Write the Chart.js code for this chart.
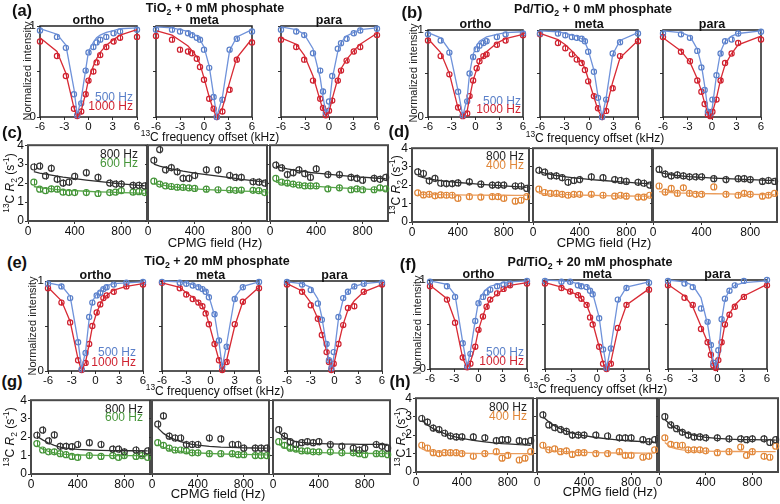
<!DOCTYPE html>
<html><head><meta charset="utf-8">
<script src="https://cdn.jsdelivr.net/npm/chart.js@4.4.1/dist/chart.umd.min.js"></script>
<style>
html,body{margin:0;padding:0;background:#fff}
#wrap{position:relative;width:780px;height:504px;overflow:hidden;font-family:"Liberation Sans",Arial,Helvetica,sans-serif;color:#111}
#wrap canvas{position:absolute}
.t{position:absolute;white-space:nowrap;line-height:1}
.t sup,.t sub{font-size:70%;line-height:0}
</style></head><body><div id="wrap"></div>
<script>
// ---------- tick labels ----------
const CEST_X_TICKS = [-6, -3, 0, 3, 6];
const CEST_Y_TICKS = [0, 0.5, 1];
const CPMG_X_TICKS = [0, 400, 800];
const CPMG_Y_TICKS = [0, 1, 2, 3, 4];
const CEST_ERR = 0.03;
const CPMG_ERR = 0.2;

// ---------- (a) TiO2 + 0 mM phosphate : CEST (kHz offset, normalized intensity) ----------
const A_ORTHO_X = [-6, -3.9, -2.8, -1.8, -1.4, -0.9, -0.35, 0, 0.6, 1, 1.45, 2.2, 3.1, 3.9, 6];
const A_ORTHO_500 = [0.95, 0.88, 0.76, 0.25, 0.02, 0.15, 0.51, 0.71, 0.77, 0.82, 0.85, 0.88, 0.92, 0.94, 0.96];
const A_ORTHO_500_FIT = [0.97, 0.91, 0.79, 0.31, 0.02, 0.2, 0.52, 0.72, 0.82, 0.87, 0.9, 0.93, 0.95, 0.97, 0.98];
const A_ORTHO_1000 = [0.83, 0.67, 0.45, 0.09, 0.01, 0.06, 0.25, 0.4, 0.5, 0.6, 0.68, 0.77, 0.83, 0.87, 0.88];
const A_ORTHO_1000_FIT = [0.87, 0.72, 0.48, 0.1, 0.0, 0.07, 0.26, 0.41, 0.56, 0.64, 0.71, 0.79, 0.85, 0.9, 0.96];
const A_META_X = [-6, -4, -3, -2, -1.5, -0.9, -0.5, 0, 0.65, 1.2, 1.6, 2.3, 3.2, 4.1, 6];
const A_META_500 = [0.96, 0.96, 0.94, 0.92, 0.9, 0.87, 0.85, 0.74, 0.54, 0.22, 0.0, 0.19, 0.74, 0.86, 0.94];
const A_META_500_FIT = [0.99, 0.98, 0.96, 0.94, 0.92, 0.89, 0.85, 0.77, 0.56, 0.24, 0.0, 0.22, 0.73, 0.88, 0.96];
const A_META_1000 = [0.89, 0.85, 0.74, 0.72, 0.7, 0.64, 0.55, 0.41, 0.2, 0.09, 0.0, 0.06, 0.3, 0.63, 0.82];
const A_META_1000_FIT = [0.95, 0.9, 0.84, 0.78, 0.73, 0.66, 0.58, 0.43, 0.22, 0.07, 0.0, 0.1, 0.38, 0.65, 0.86];
const A_PARA_X = [-6, -4.1, -3.1, -2, -1.1, -0.75, -0.4, 0, 0.4, 1.1, 1.5, 2.2, 3.1, 3.9, 6];
const A_PARA_500 = [0.96, 0.94, 0.9, 0.7, 0.51, 0.28, 0.05, 0.17, 0.45, 0.75, 0.81, 0.86, 0.92, 0.95, 0.97];
const A_PARA_500_FIT = [0.99, 0.96, 0.91, 0.75, 0.43, 0.22, 0.05, 0.1, 0.42, 0.72, 0.82, 0.89, 0.93, 0.96, 0.98];
const A_PARA_1000 = [0.85, 0.77, 0.63, 0.4, 0.2, 0.1, 0.02, 0.07, 0.18, 0.4, 0.51, 0.62, 0.72, 0.77, 0.9];
const A_PARA_1000_FIT = [0.87, 0.8, 0.68, 0.45, 0.18, 0.08, 0.02, 0.05, 0.2, 0.42, 0.53, 0.63, 0.73, 0.8, 0.92];

// ---------- (b) Pd/TiO2 + 0 mM phosphate : CEST ----------
const B_ORTHO_X = [-6, -4.4, -3.3, -2.2, -1.6, -1.05, -0.75, -0.3, 0.15, 0.5, 1, 1.4, 2.7, 3.8, 6];
const B_ORTHO_500 = [0.95, 0.88, 0.74, 0.29, 0.02, 0.18, 0.5, 0.69, 0.78, 0.82, 0.85, 0.87, 0.92, 0.95, 0.96];
const B_ORTHO_500_FIT = [0.97, 0.91, 0.77, 0.3, 0.01, 0.22, 0.5, 0.72, 0.82, 0.87, 0.9, 0.92, 0.95, 0.97, 0.98];
const B_ORTHO_1000 = [0.88, 0.7, 0.49, 0.11, 0.01, 0.04, 0.24, 0.42, 0.56, 0.64, 0.7, 0.72, 0.83, 0.88, 0.94];
const B_ORTHO_1000_FIT = [0.9, 0.74, 0.5, 0.1, 0.0, 0.07, 0.22, 0.42, 0.55, 0.63, 0.7, 0.75, 0.85, 0.9, 0.95];
const B_META_X = [-6, -3.8, -2.9, -2.1, -1.5, -0.9, -0.5, -0.1, 0.6, 1.1, 1.6, 2.1, 2.9, 3.8, 6];
const B_META_500 = [0.96, 0.96, 0.94, 0.92, 0.91, 0.9, 0.87, 0.75, 0.52, 0.22, 0.0, 0.2, 0.73, 0.86, 0.96];
const B_META_500_FIT = [0.99, 0.98, 0.96, 0.94, 0.93, 0.9, 0.86, 0.77, 0.54, 0.24, 0.0, 0.22, 0.72, 0.88, 0.97];
const B_META_1000 = [0.95, 0.85, 0.79, 0.72, 0.66, 0.62, 0.54, 0.41, 0.24, 0.1, 0.0, 0.07, 0.33, 0.7, 0.87];
const B_META_1000_FIT = [0.96, 0.89, 0.83, 0.76, 0.7, 0.63, 0.56, 0.44, 0.23, 0.08, 0.0, 0.1, 0.4, 0.68, 0.88];
const B_PARA_X = [-6, -3.8, -2.7, -1.8, -1.3, -0.9, -0.5, -0.2, 0.05, 0.55, 1.05, 1.6, 2.4, 3.2, 6];
const B_PARA_500 = [0.96, 0.95, 0.91, 0.76, 0.57, 0.31, 0.06, 0.04, 0.2, 0.48, 0.73, 0.87, 0.89, 0.96, 0.98];
const B_PARA_500_FIT = [0.99, 0.97, 0.93, 0.78, 0.6, 0.36, 0.08, 0.02, 0.12, 0.48, 0.75, 0.87, 0.93, 0.96, 0.99];
const B_PARA_1000 = [0.92, 0.75, 0.64, 0.42, 0.29, 0.15, 0.03, 0.01, 0.06, 0.2, 0.42, 0.62, 0.73, 0.85, 0.89];
const B_PARA_1000_FIT = [0.91, 0.76, 0.63, 0.44, 0.3, 0.16, 0.04, 0.0, 0.05, 0.22, 0.43, 0.6, 0.73, 0.83, 0.93];

// ---------- (e) TiO2 + 20 mM phosphate : CEST ----------
const E_ORTHO_X = [-6, -4.3, -3.2, -2.2, -1.75, -1.25, -0.8, -0.4, 0.15, 0.6, 1, 1.4, 2.3, 3.9, 6];
const E_ORTHO_500 = [0.97, 0.94, 0.81, 0.32, 0.02, 0.2, 0.6, 0.76, 0.84, 0.87, 0.91, 0.93, 0.96, 0.98, 0.99];
const E_ORTHO_500_FIT = [0.98, 0.95, 0.83, 0.33, 0.02, 0.22, 0.58, 0.77, 0.86, 0.9, 0.93, 0.95, 0.97, 0.98, 0.99];
const E_ORTHO_1000 = [0.92, 0.76, 0.54, 0.12, 0.01, 0.09, 0.3, 0.5, 0.65, 0.74, 0.81, 0.84, 0.88, 0.94, 0.96];
const E_ORTHO_1000_FIT = [0.93, 0.78, 0.55, 0.13, 0.0, 0.1, 0.3, 0.49, 0.65, 0.74, 0.8, 0.84, 0.9, 0.94, 0.97];
const E_META_X = [-6, -3.8, -3, -2.2, -1.5, -1, -0.6, -0.2, 0.5, 1.05, 1.45, 2, 3, 4, 6];
const E_META_500 = [0.99, 0.98, 0.97, 0.95, 0.93, 0.91, 0.88, 0.82, 0.63, 0.34, 0.05, 0.27, 0.8, 0.93, 0.99];
const E_META_500_FIT = [1.0, 0.99, 0.98, 0.96, 0.94, 0.92, 0.89, 0.83, 0.62, 0.32, 0.04, 0.3, 0.82, 0.94, 0.99];
const E_META_1000 = [0.98, 0.92, 0.85, 0.8, 0.76, 0.72, 0.64, 0.52, 0.3, 0.12, 0.01, 0.1, 0.52, 0.77, 0.92];
const E_META_1000_FIT = [0.98, 0.93, 0.87, 0.82, 0.77, 0.72, 0.65, 0.53, 0.3, 0.12, 0.01, 0.12, 0.5, 0.77, 0.93];
const E_PARA_X = [-6, -4.1, -3, -2.1, -1.6, -1.0, -0.7, -0.4, -0.1, 0.5, 1.1, 1.7, 2.5, 3.7, 6];
const E_PARA_500 = [0.99, 0.96, 0.9, 0.75, 0.57, 0.3, 0.12, 0.03, 0.21, 0.6, 0.81, 0.88, 0.94, 0.97, 0.98];
const E_PARA_500_FIT = [0.99, 0.97, 0.93, 0.8, 0.6, 0.28, 0.1, 0.02, 0.15, 0.58, 0.8, 0.89, 0.94, 0.97, 0.99];
const E_PARA_1000 = [0.96, 0.88, 0.73, 0.58, 0.4, 0.21, 0.1, 0.01, 0.08, 0.3, 0.51, 0.7, 0.72, 0.88, 0.96];
const E_PARA_1000_FIT = [0.97, 0.89, 0.76, 0.58, 0.42, 0.22, 0.1, 0.01, 0.07, 0.3, 0.52, 0.68, 0.78, 0.88, 0.96];

// ---------- (f) Pd/TiO2 + 20 mM phosphate : CEST ----------
const F_ORTHO_X = [-6, -3.9, -2.9, -1.95, -1.4, -1.0, -0.4, 0, 0.55, 1.0, 1.45, 2.3, 3.1, 3.9, 6];
const F_ORTHO_500 = [0.98, 0.93, 0.81, 0.29, 0.03, 0.17, 0.54, 0.74, 0.81, 0.86, 0.89, 0.93, 0.95, 0.96, 0.99];
const F_ORTHO_500_FIT = [0.99, 0.95, 0.83, 0.3, 0.02, 0.2, 0.55, 0.76, 0.85, 0.9, 0.93, 0.95, 0.97, 0.98, 0.99];
const F_ORTHO_1000 = [0.93, 0.78, 0.52, 0.13, 0.02, 0.06, 0.25, 0.44, 0.59, 0.7, 0.78, 0.85, 0.9, 0.94, 0.96];
const F_ORTHO_1000_FIT = [0.94, 0.79, 0.54, 0.12, 0.01, 0.08, 0.26, 0.44, 0.6, 0.71, 0.78, 0.84, 0.9, 0.94, 0.97];
const F_META_X = [-6, -4.1, -3.1, -2.2, -1.8, -1.2, -0.8, -0.5, 0.25, 0.7, 1.1, 1.6, 2.4, 3.4, 6];
const F_META_500 = [0.99, 0.98, 0.98, 0.94, 0.93, 0.92, 0.88, 0.84, 0.57, 0.22, 0.01, 0.23, 0.78, 0.91, 0.97];
const F_META_500_FIT = [1.0, 0.99, 0.98, 0.96, 0.95, 0.93, 0.9, 0.85, 0.58, 0.25, 0.01, 0.25, 0.76, 0.92, 0.98];
const F_META_1000 = [0.96, 0.91, 0.87, 0.83, 0.79, 0.72, 0.58, 0.5, 0.25, 0.06, 0.0, 0.06, 0.46, 0.72, 0.89];
const F_META_1000_FIT = [0.97, 0.92, 0.87, 0.83, 0.79, 0.72, 0.62, 0.52, 0.25, 0.07, 0.0, 0.08, 0.44, 0.72, 0.9];
const F_PARA_X = [-6, -4, -3, -2, -1.2, -0.8, -0.5, -0.2, 0.1, 0.5, 0.9, 1.45, 2.1, 3.2, 6];
const F_PARA_500 = [0.99, 0.96, 0.92, 0.68, 0.53, 0.27, 0.07, 0.04, 0.21, 0.56, 0.79, 0.88, 0.94, 0.99, 1.0];
const F_PARA_500_FIT = [1.0, 0.98, 0.94, 0.8, 0.5, 0.27, 0.08, 0.02, 0.15, 0.55, 0.78, 0.89, 0.94, 0.97, 0.99];
const F_PARA_1000 = [0.94, 0.8, 0.72, 0.45, 0.3, 0.16, 0.04, 0.01, 0.1, 0.3, 0.5, 0.61, 0.7, 0.81, 0.94];
const F_PARA_1000_FIT = [0.95, 0.82, 0.7, 0.48, 0.3, 0.16, 0.05, 0.0, 0.08, 0.3, 0.5, 0.62, 0.72, 0.82, 0.95];

// ---------- CPMG field (Hz) and 13C R2 (s-1) ----------
const CPMG_X = [50, 100, 150, 200, 250, 300, 350, 400, 500, 600, 700, 750, 800, 900, 950, 1000];

// (c) TiO2 + 0 mM : 800 Hz (black) and 600 Hz (green)
const C_ORTHO_800 = [2.85, 2.9, 2.38, 2.78, 2.2, 2.0, 2.05, 2.35, 2.55, 2.3, 2.0, 1.95, 1.95, 1.88, 1.88, 1.85];
const C_ORTHO_800_FIT = [2.6, 2.53, 2.47, 2.42, 2.37, 2.32, 2.28, 2.24, 2.16, 2.09, 2.02, 1.99, 1.96, 1.91, 1.88, 1.86];
const C_ORTHO_600 = [2.05, 1.68, 1.6, 1.7, 1.68, 1.52, 1.5, 1.5, 1.5, 1.45, 1.5, 1.52, 1.6, 1.52, 1.55, 1.5];
const C_ORTHO_600_FIT = [1.82, 1.76, 1.72, 1.69, 1.66, 1.63, 1.61, 1.6, 1.57, 1.54, 1.52, 1.51, 1.5, 1.48, 1.47, 1.46];
const C_META_800 = [3.2, 3.77, 2.7, 2.82, 2.6, 2.25, 2.25, 2.4, 2.7, 2.7, 2.4, 2.3, 2.3, 2.07, 2.05, 2.0];
const C_META_800_FIT = [3.0, 2.9, 2.82, 2.75, 2.69, 2.63, 2.58, 2.53, 2.45, 2.37, 2.29, 2.25, 2.2, 2.13, 2.09, 2.05];
const C_META_600 = [2.1, 1.95, 1.85, 1.82, 1.78, 1.77, 1.75, 1.72, 1.68, 1.65, 1.65, 1.62, 1.63, 1.62, 1.6, 1.5];
const C_META_600_FIT = [2.0, 1.92, 1.87, 1.82, 1.78, 1.75, 1.72, 1.7, 1.66, 1.63, 1.6, 1.59, 1.58, 1.56, 1.55, 1.54];
const C_PARA_800 = [2.95, 2.8, 2.45, 2.55, 2.7, 2.5, 2.3, 2.75, 2.45, 2.45, 2.3, 2.25, 2.15, 2.25, 2.2, 2.3];
const C_PARA_800_FIT = [2.9, 2.82, 2.75, 2.7, 2.65, 2.6, 2.56, 2.53, 2.47, 2.41, 2.36, 2.33, 2.31, 2.27, 2.25, 2.23];
const C_PARA_600 = [2.25, 2.05, 2.0, 1.95, 1.9, 1.85, 1.85, 1.85, 1.7, 1.75, 1.65, 1.7, 1.65, 1.65, 1.75, 1.7];
const C_PARA_600_FIT = [2.05, 2.0, 1.96, 1.93, 1.9, 1.87, 1.85, 1.83, 1.79, 1.75, 1.72, 1.7, 1.69, 1.66, 1.64, 1.62];

// (d) Pd/TiO2 + 0 mM : 800 Hz (black) and 400 Hz (orange)
const D_ORTHO_800 = [2.72, 2.63, 2.23, 2.36, 2.1, 2.08, 2.08, 2.12, 2.18, 2.05, 2.0, 2.0, 2.0, 1.95, 1.95, 1.82];
const D_ORTHO_800_FIT = [2.5, 2.4, 2.33, 2.28, 2.24, 2.2, 2.17, 2.14, 2.09, 2.04, 2.0, 1.98, 1.96, 1.92, 1.9, 1.88];
const D_ORTHO_400 = [1.58, 1.47, 1.5, 1.42, 1.47, 1.45, 1.45, 1.28, 1.37, 1.35, 1.37, 1.37, 1.28, 1.13, 1.18, 1.37];
const D_ORTHO_400_FIT = [1.5, 1.49, 1.49, 1.48, 1.48, 1.47, 1.47, 1.47, 1.46, 1.46, 1.45, 1.45, 1.45, 1.44, 1.44, 1.44];
const D_META_800 = [2.8, 2.7, 2.5, 2.5, 2.4, 2.15, 2.25, 2.3, 2.45, 2.4, 2.3, 2.25, 2.2, 2.15, 2.1, 2.0];
const D_META_800_FIT = [2.75, 2.65, 2.58, 2.52, 2.47, 2.43, 2.39, 2.36, 2.3, 2.25, 2.2, 2.18, 2.16, 2.11, 2.09, 2.07];
const D_META_400 = [1.78, 1.6, 1.55, 1.55, 1.5, 1.45, 1.5, 1.5, 1.5, 1.45, 1.4, 1.45, 1.4, 1.35, 1.35, 1.45];
const D_META_400_FIT = [1.55, 1.53, 1.51, 1.5, 1.49, 1.48, 1.47, 1.46, 1.45, 1.43, 1.42, 1.41, 1.41, 1.4, 1.4, 1.39];
const D_PARA_800 = [2.85, 2.6, 2.5, 2.55, 2.5, 2.45, 2.45, 2.45, 2.35, 2.3, 2.35, 2.35, 2.3, 2.2, 2.25, 2.2];
const D_PARA_800_FIT = [2.7, 2.62, 2.56, 2.52, 2.49, 2.46, 2.44, 2.42, 2.38, 2.35, 2.32, 2.31, 2.3, 2.27, 2.26, 2.25];
const D_PARA_400 = [1.95, 1.62, 1.82, 1.55, 1.85, 1.55, 1.5, 1.5, 1.9, 1.5, 1.45, 1.55, 1.5, 1.4, 1.45, 1.55];
const D_PARA_400_FIT = [1.65, 1.62, 1.6, 1.58, 1.57, 1.56, 1.55, 1.54, 1.53, 1.52, 1.51, 1.5, 1.5, 1.49, 1.49, 1.48];

// (g) TiO2 + 20 mM : 800 Hz (black) and 600 Hz (green)
const G_ORTHO_800 = [2.1, 2.38, 1.8, 2.12, 1.5, 1.5, 1.48, 1.6, 1.7, 1.6, 1.35, 1.35, 1.2, 1.3, 1.1, 1.25];
const G_ORTHO_800_FIT = [2.05, 1.85, 1.68, 1.55, 1.46, 1.4, 1.36, 1.33, 1.3, 1.28, 1.27, 1.27, 1.26, 1.26, 1.25, 1.25];
const G_ORTHO_600 = [1.65, 1.3, 1.2, 1.2, 1.1, 1.05, 0.95, 0.9, 1.0, 0.95, 1.0, 0.9, 1.0, 0.95, 1.0, 0.9];
const G_ORTHO_600_FIT = [1.55, 1.35, 1.22, 1.14, 1.09, 1.06, 1.04, 1.03, 1.02, 1.01, 1.0, 1.0, 1.0, 1.0, 1.0, 1.0];
const G_META_800 = [2.7, 3.15, 2.05, 1.95, 1.95, 1.6, 1.6, 1.6, 1.95, 1.9, 1.6, 1.6, 1.4, 1.4, 1.4, 1.4];
const G_META_800_FIT = [2.5, 2.2, 2.0, 1.86, 1.75, 1.67, 1.61, 1.56, 1.5, 1.46, 1.44, 1.43, 1.42, 1.41, 1.4, 1.4];
const G_META_600 = [1.7, 1.55, 1.4, 1.3, 1.3, 1.25, 1.15, 1.15, 1.1, 1.1, 1.1, 1.05, 1.05, 1.0, 1.0, 1.0];
const G_META_600_FIT = [1.6, 1.45, 1.35, 1.28, 1.23, 1.19, 1.16, 1.14, 1.11, 1.09, 1.07, 1.06, 1.06, 1.05, 1.04, 1.04];
const G_PARA_800 = [2.4, 2.05, 1.75, 1.6, 1.7, 1.75, 1.7, 1.75, 1.6, 1.5, 1.4, 1.3, 1.4, 1.6, 1.5, 1.4];
const G_PARA_800_FIT = [2.25, 2.0, 1.85, 1.76, 1.71, 1.68, 1.66, 1.65, 1.63, 1.62, 1.62, 1.61, 1.61, 1.61, 1.6, 1.6];
const G_PARA_600 = [1.75, 1.55, 1.4, 1.35, 1.25, 1.25, 1.2, 1.2, 1.2, 1.15, 1.15, 1.1, 1.05, 1.1, 1.1, 1.05];
const G_PARA_600_FIT = [1.6, 1.42, 1.32, 1.26, 1.22, 1.19, 1.17, 1.16, 1.14, 1.13, 1.12, 1.12, 1.12, 1.11, 1.11, 1.11];

// (h) Pd/TiO2 + 20 mM : 800 Hz (black) and 400 Hz (orange)
const H_ORTHO_800 = [2.9, 2.7, 2.38, 2.3, 2.1, 1.95, 1.9, 1.9, 1.9, 1.85, 1.7, 1.75, 1.75, 1.7, 1.65, 1.7];
const H_ORTHO_800_FIT = [2.8, 2.55, 2.35, 2.2, 2.08, 1.97, 1.89, 1.82, 1.71, 1.63, 1.57, 1.54, 1.52, 1.48, 1.47, 1.45];
const H_ORTHO_400 = [1.45, 1.3, 1.05, 1.0, 1.05, 1.05, 1.05, 1.0, 0.85, 1.0, 1.1, 0.75, 0.9, 0.65, 0.75, 1.1];
const H_ORTHO_400_FIT = [1.25, 1.15, 1.1, 1.07, 1.05, 1.04, 1.03, 1.02, 1.01, 1.0, 1.0, 1.0, 1.0, 1.0, 1.0, 1.0];
const H_META_800 = [3.1, 2.55, 2.4, 2.3, 2.2, 2.0, 2.0, 2.0, 2.0, 1.95, 1.85, 1.85, 1.85, 1.75, 1.65, 1.75];
const H_META_800_FIT = [3.0, 2.72, 2.5, 2.34, 2.21, 2.11, 2.03, 1.97, 1.87, 1.79, 1.73, 1.7, 1.68, 1.65, 1.63, 1.62];
const H_META_400 = [1.45, 1.2, 1.25, 1.1, 1.15, 0.95, 1.05, 1.05, 1.0, 1.0, 1.1, 0.9, 0.9, 0.8, 0.85, 1.2];
const H_META_400_FIT = [1.3, 1.2, 1.15, 1.12, 1.1, 1.08, 1.07, 1.06, 1.05, 1.04, 1.03, 1.03, 1.03, 1.02, 1.02, 1.02];
const H_PARA_800 = [3.0, 2.55, 2.35, 2.15, 2.0, 1.9, 1.9, 1.85, 1.85, 1.8, 1.8, 1.75, 1.8, 1.8, 1.6, 1.75];
const H_PARA_800_FIT = [2.85, 2.55, 2.35, 2.2, 2.08, 1.99, 1.93, 1.88, 1.82, 1.78, 1.76, 1.75, 1.75, 1.74, 1.74, 1.73];
const H_PARA_400 = [1.85, 1.5, 1.45, 1.45, 1.2, 1.2, 1.2, 1.15, 1.05, 1.1, 1.35, 0.9, 1.1, 0.85, 0.8, 1.4];
const H_PARA_400_FIT = [1.6, 1.35, 1.25, 1.2, 1.17, 1.15, 1.14, 1.13, 1.12, 1.11, 1.11, 1.1, 1.1, 1.1, 1.1, 1.1];

// ---------- drawing ----------
const wrap = document.getElementById('wrap');
Chart.defaults.font.family = '"Liberation Sans", Arial, Helvetica, sans-serif';
Chart.defaults.color = '#111';

const COL = {
  blue: '#5b80c9', blueLine: '#6f92da',
  red: '#cf2230', redLine: '#d82a34',
  black: '#383838', blackLine: '#2e2e2e',
  green: '#46953a', greenLine: '#56a548',
  orange: '#e0873a', orangeLine: '#eb9d5c'
};

const errorBars = {
  id: 'errorBars',
  afterDatasetsDraw(chart) {
    const ctx = chart.ctx, xs = chart.scales.x, ys = chart.scales.y;
    chart.data.datasets.forEach(ds => {
      if (!ds.err) return;
      ctx.save();
      ctx.strokeStyle = ds.borderColor; ctx.lineWidth = 1;
      ds.data.forEach(p => {
        const px = Math.round(xs.getPixelForValue(p.x)) + 0.5;
        ctx.beginPath();
        ctx.moveTo(px, ys.getPixelForValue(p.y - ds.err));
        ctx.lineTo(px, ys.getPixelForValue(p.y + ds.err));
        ctx.stroke();
      });
      ctx.restore();
    });
  }
};
const frame = {
  id: 'frame',
  beforeDatasetsDraw(chart, args, o) {
    const a = chart.chartArea, ctx = chart.ctx;
    ctx.save();
    ctx.strokeStyle = o.color; ctx.lineWidth = o.width;
    ctx.strokeRect(a.left, a.top, a.right - a.left, a.bottom - a.top);
    ctx.restore();
  }
};

function pairs(xs, ys) { return xs.map((x, i) => ({ x: x, y: ys[i] })); }
function fitDs(xs, ys, color) {
  return { data: pairs(xs, ys), showLine: true, borderColor: color, borderWidth: 1.3,
           pointRadius: 0, pointHoverRadius: 0, clip: false, tension: 0 };
}
function ptDs(xs, ys, color, err, r) {
  return { data: pairs(xs, ys), showLine: false, borderColor: color, backgroundColor: 'rgba(255,255,255,0)',
           pointRadius: r, pointBorderWidth: 1.2, pointHoverRadius: r, clip: false, err: err };
}

function makeChart(box, kind, datasets, showY) {
  const [l, t, w, h] = box;
  const padL = 16, padT = 8, padR = 10, padB = 15;
  const W = w + padL + padR, H = h + padT + padB;
  const c = document.createElement('canvas');
  c.width = W; c.height = H;
  c.style.left = (l - padL) + 'px'; c.style.top = (t - padT) + 'px';
  c.style.width = W + 'px'; c.style.height = H + 'px';
  wrap.appendChild(c);
  const cest = kind === 'cest';
  const xTicks = cest ? CEST_X_TICKS : CPMG_X_TICKS;
  const yTicks = cest ? CEST_Y_TICKS : CPMG_Y_TICKS;
  const fs = cest ? 11.5 : 12;
  new Chart(c.getContext('2d'), {
    type: 'scatter',
    data: { datasets: datasets },
    options: {
      responsive: false, animation: false, devicePixelRatio: 1, events: [],
      layout: { padding: { left: 0, top: padT, right: padR, bottom: 0 } },
      plugins: { legend: { display: false }, tooltip: { enabled: false },
                 frame: { color: cest ? '#222' : '#4a4a4a', width: cest ? 1.5 : 2 } },
      scales: {
        x: { type: 'linear', min: cest ? -6 : 0, max: cest ? 6 : 1020,
             afterBuildTicks: s => { s.ticks = xTicks.map(v => ({ value: v })); },
             afterFit: s => { s.height = padB; },
             ticks: { font: { size: fs }, color: '#111', padding: 0, maxRotation: 0, autoSkip: false,
                      callback: v => String(v) },
             grid: { drawOnChartArea: false, drawTicks: true, tickLength: 3, color: '#333', lineWidth: 1 },
             border: { display: false } },
        y: { type: 'linear', min: 0, max: cest ? 1 : 4,
             afterBuildTicks: s => { s.ticks = yTicks.map(v => ({ value: v })); },
             afterFit: s => { s.width = padL; },
             ticks: { font: { size: fs }, color: '#111', padding: 1, autoSkip: false,
                      callback: v => (showY && (!cest || v === 0 || v === 1)) ? String(v) : '' },
             grid: { drawOnChartArea: false, drawTicks: true, tickLength: 3, color: '#333', lineWidth: 1 },
             border: { display: false } }
      }
    },
    plugins: [frame, errorBars]
  });
}

function cest(box, xs, d500, f500, d1000, f1000, showY) {
  makeChart(box, 'cest', [
    fitDs(xs, f500, COL.blueLine), fitDs(xs, f1000, COL.redLine),
    ptDs(xs, d500, COL.blue, CEST_ERR, 2.6), ptDs(xs, d1000, COL.red, CEST_ERR, 2.6)
  ], showY);
}
function cpmg(box, d800, f800, dLow, fLow, lowCol, lowLine, showY) {
  makeChart(box, 'cpmg', [
    fitDs(CPMG_X, f800, COL.blackLine), fitDs(CPMG_X, fLow, lowLine),
    ptDs(CPMG_X, d800, COL.black, CPMG_ERR, 3), ptDs(CPMG_X, dLow, lowCol, CPMG_ERR * 0.8, 3)
  ], showY);
}

// boxes [left, top, width, height] of each plot area
const BOX = {
  a: [[40, 26, 97, 91], [156, 26, 96, 91], [281, 26, 96, 91]],
  b: [[428, 30, 95, 87], [540, 30, 98, 87], [663, 30, 98, 87]],
  e: [[48, 281, 95, 90], [162, 281, 97, 90], [287, 281, 95, 90]],
  f: [[430, 280, 97, 89], [545, 280, 104, 89], [668, 280, 99, 89]],
  c: [[28, 145, 119, 76], [148, 145, 119, 76], [270, 145, 118, 76]],
  d: [[412, 148, 117, 74], [533, 148, 119, 74], [653, 148, 124, 74]],
  g: [[31, 400, 119, 74], [152, 400, 117, 74], [273, 400, 117, 74]],
  h: [[416, 398, 117, 74], [537, 398, 120, 74], [659, 398, 119, 74]]
};

cest(BOX.a[0], A_ORTHO_X, A_ORTHO_500, A_ORTHO_500_FIT, A_ORTHO_1000, A_ORTHO_1000_FIT, true);
cest(BOX.a[1], A_META_X, A_META_500, A_META_500_FIT, A_META_1000, A_META_1000_FIT, false);
cest(BOX.a[2], A_PARA_X, A_PARA_500, A_PARA_500_FIT, A_PARA_1000, A_PARA_1000_FIT, false);
cest(BOX.b[0], B_ORTHO_X, B_ORTHO_500, B_ORTHO_500_FIT, B_ORTHO_1000, B_ORTHO_1000_FIT, true);
cest(BOX.b[1], B_META_X, B_META_500, B_META_500_FIT, B_META_1000, B_META_1000_FIT, false);
cest(BOX.b[2], B_PARA_X, B_PARA_500, B_PARA_500_FIT, B_PARA_1000, B_PARA_1000_FIT, false);
cest(BOX.e[0], E_ORTHO_X, E_ORTHO_500, E_ORTHO_500_FIT, E_ORTHO_1000, E_ORTHO_1000_FIT, true);
cest(BOX.e[1], E_META_X, E_META_500, E_META_500_FIT, E_META_1000, E_META_1000_FIT, false);
cest(BOX.e[2], E_PARA_X, E_PARA_500, E_PARA_500_FIT, E_PARA_1000, E_PARA_1000_FIT, false);
cest(BOX.f[0], F_ORTHO_X, F_ORTHO_500, F_ORTHO_500_FIT, F_ORTHO_1000, F_ORTHO_1000_FIT, true);
cest(BOX.f[1], F_META_X, F_META_500, F_META_500_FIT, F_META_1000, F_META_1000_FIT, false);
cest(BOX.f[2], F_PARA_X, F_PARA_500, F_PARA_500_FIT, F_PARA_1000, F_PARA_1000_FIT, false);

cpmg(BOX.c[0], C_ORTHO_800, C_ORTHO_800_FIT, C_ORTHO_600, C_ORTHO_600_FIT, COL.green, COL.greenLine, true);
cpmg(BOX.c[1], C_META_800, C_META_800_FIT, C_META_600, C_META_600_FIT, COL.green, COL.greenLine, false);
cpmg(BOX.c[2], C_PARA_800, C_PARA_800_FIT, C_PARA_600, C_PARA_600_FIT, COL.green, COL.greenLine, false);
cpmg(BOX.d[0], D_ORTHO_800, D_ORTHO_800_FIT, D_ORTHO_400, D_ORTHO_400_FIT, COL.orange, COL.orangeLine, true);
cpmg(BOX.d[1], D_META_800, D_META_800_FIT, D_META_400, D_META_400_FIT, COL.orange, COL.orangeLine, false);
cpmg(BOX.d[2], D_PARA_800, D_PARA_800_FIT, D_PARA_400, D_PARA_400_FIT, COL.orange, COL.orangeLine, false);
cpmg(BOX.g[0], G_ORTHO_800, G_ORTHO_800_FIT, G_ORTHO_600, G_ORTHO_600_FIT, COL.green, COL.greenLine, true);
cpmg(BOX.g[1], G_META_800, G_META_800_FIT, G_META_600, G_META_600_FIT, COL.green, COL.greenLine, false);
cpmg(BOX.g[2], G_PARA_800, G_PARA_800_FIT, G_PARA_600, G_PARA_600_FIT, COL.green, COL.greenLine, false);
cpmg(BOX.h[0], H_ORTHO_800, H_ORTHO_800_FIT, H_ORTHO_400, H_ORTHO_400_FIT, COL.orange, COL.orangeLine, true);
cpmg(BOX.h[1], H_META_800, H_META_800_FIT, H_META_400, H_META_400_FIT, COL.orange, COL.orangeLine, false);
cpmg(BOX.h[2], H_PARA_800, H_PARA_800_FIT, H_PARA_400, H_PARA_400_FIT, COL.orange, COL.orangeLine, false);

// ---------- text ----------
function T(html, x, y, css, anchor, rot) {
  const d = document.createElement('div');
  d.className = 't'; d.innerHTML = html;
  d.style.left = x + 'px'; d.style.top = y + 'px';
  if (css) d.style.cssText += css;
  let tr = anchor === 'r' ? 'translate(-100%,-50%)' : 'translate(-50%,-50%)';
  if (rot) tr += ' rotate(-90deg)';
  d.style.transform = tr;
  wrap.appendChild(d);
}
const BOLD = 'font-weight:bold;';
// panel letters
[['(a)', 22, 10], ['(b)', 412, 12], ['(c)', 12, 132], ['(d)', 399, 131],
 ['(e)', 17, 262], ['(f)', 408, 264], ['(g)', 12, 381], ['(h)', 400, 381]]
  .forEach(p => T(p[0], p[1], p[2], BOLD + 'font-size:16.5px;'));
// titles
T('TiO<sub>2</sub> + 0 mM phosphate', 215, 8, BOLD + 'font-size:12.5px;');
T('Pd/TiO<sub>2</sub> + 0 mM phosphate', 593, 9, BOLD + 'font-size:12.5px;');
T('TiO<sub>2</sub> + 20 mM phosphate', 217, 261, BOLD + 'font-size:12.5px;');
T('Pd/TiO<sub>2</sub> + 20 mM phosphate', 590, 262, BOLD + 'font-size:12.5px;');
// column titles
['a', 'b', 'e', 'f'].forEach(k => {
  ['ortho', 'meta', 'para'].forEach((n, i) => {
    const b = BOX[k][i];
    T(n, b[0] + b[2] / 2, b[1] - 6, BOLD + 'font-size:12.5px;');
  });
});
// CEST axis titles
[[27, 71], [413, 73], [32, 326], [417, 325]].forEach(p =>
  T('Normalized intensity', p[0], p[1], 'font-size:11px;color:#222;', 'c', true));
[[210, 137], [595, 138], [215, 391], [598, 389]].forEach(p =>
  T('<sup>13</sup>C frequency offset (kHz)', p[0], p[1], 'font-size:12px;'));
// CEST legends
[[133, 97, 106], [521, 101, 109], [136, 352, 362], [524, 352, 361]].forEach(p => {
  T('500 Hz', p[0], p[1], 'font-size:12px;color:' + COL.blue + ';', 'r');
  T('1000 Hz', p[0], p[2], 'font-size:12px;color:' + COL.red + ';', 'r');
});
// CPMG axis titles
[[10, 183], [396, 185], [10, 437], [401, 437]].forEach(p =>
  T('<sup>13</sup>C <i>R</i><sub>2</sub> (s<sup>-1</sup>)', p[0], p[1], 'font-size:12px;', 'c', true));
[[215, 242], [604, 242], [218, 493], [610, 491]].forEach(p =>
  T('CPMG field (Hz)', p[0], p[1], 'font-size:13px;'));
// CPMG legends
T('800 Hz', 138, 154, 'font-size:12px;color:#222;', 'r');
T('600 Hz', 138, 163, 'font-size:12px;color:' + COL.green + ';', 'r');
T('800 Hz', 524, 156, 'font-size:12px;color:#222;', 'r');
T('400 Hz', 524, 165, 'font-size:12px;color:' + COL.orange + ';', 'r');
T('800 Hz', 143, 409, 'font-size:12px;color:#222;', 'r');
T('600 Hz', 143, 417, 'font-size:12px;color:' + COL.green + ';', 'r');
T('800 Hz', 527, 407, 'font-size:12px;color:#222;', 'r');
T('400 Hz', 527, 416, 'font-size:12px;color:' + COL.orange + ';', 'r');
</script></body></html>
